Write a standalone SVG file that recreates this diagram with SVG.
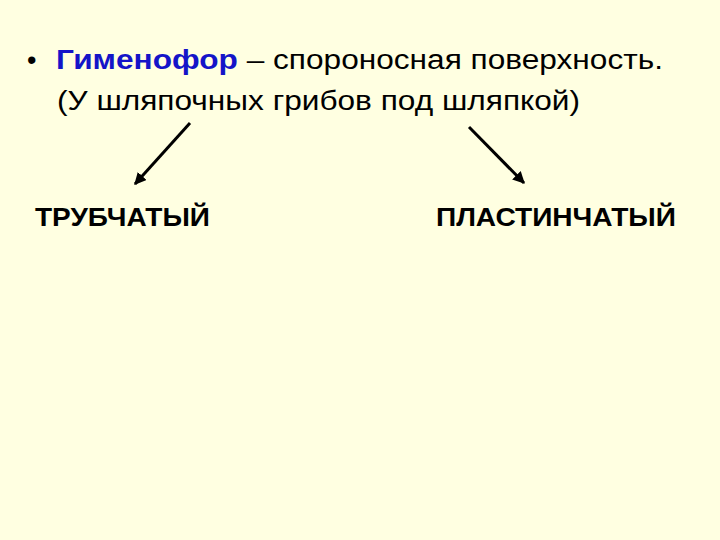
<svg xmlns="http://www.w3.org/2000/svg" width="720" height="540" viewBox="0 0 720 540">
<defs>
<style>
.t{font-family:"Liberation Sans",Arial,sans-serif;fill:#000}
.main{font-size:27px}
.lbl{font-size:25px;font-weight:bold}
.ln{stroke:#000;stroke-width:3;fill:none}
</style>
<marker id="ah" viewBox="0 0 10 10" refX="9" refY="5" markerWidth="4" markerHeight="4" orient="auto" markerUnits="strokeWidth">
<path d="M0,0 L10,5 L0,10 z" fill="#000"/>
</marker>
</defs>
<rect width="720" height="540" fill="#FFFFE1"/>
<g id="title">
<text class="t main" x="27" y="69" fill="#1414C8">•</text>
<text class="t main" x="56" y="69" textLength="607" lengthAdjust="spacingAndGlyphs"><tspan fill="#1414C8" font-weight="bold">Гименофор</tspan> – спороносная поверхность.</text>
<text class="t main" x="57" y="110" textLength="523" lengthAdjust="spacingAndGlyphs">(У шляпочных грибов под шляпкой)</text>
</g>
<g id="node-tube">
<text class="t lbl" x="35" y="226" textLength="175" lengthAdjust="spacingAndGlyphs">ТРУБЧАТЫЙ</text>
</g>
<g id="node-plate">
<text class="t lbl" x="436" y="226" textLength="240" lengthAdjust="spacingAndGlyphs">ПЛАСТИНЧАТЫЙ</text>
</g>
<g id="connectors">
<line class="ln" x1="190" y1="123" x2="135" y2="184" marker-end="url(#ah)"/>
<line class="ln" x1="469" y1="127" x2="524" y2="183" marker-end="url(#ah)"/>
</g>
</svg>
